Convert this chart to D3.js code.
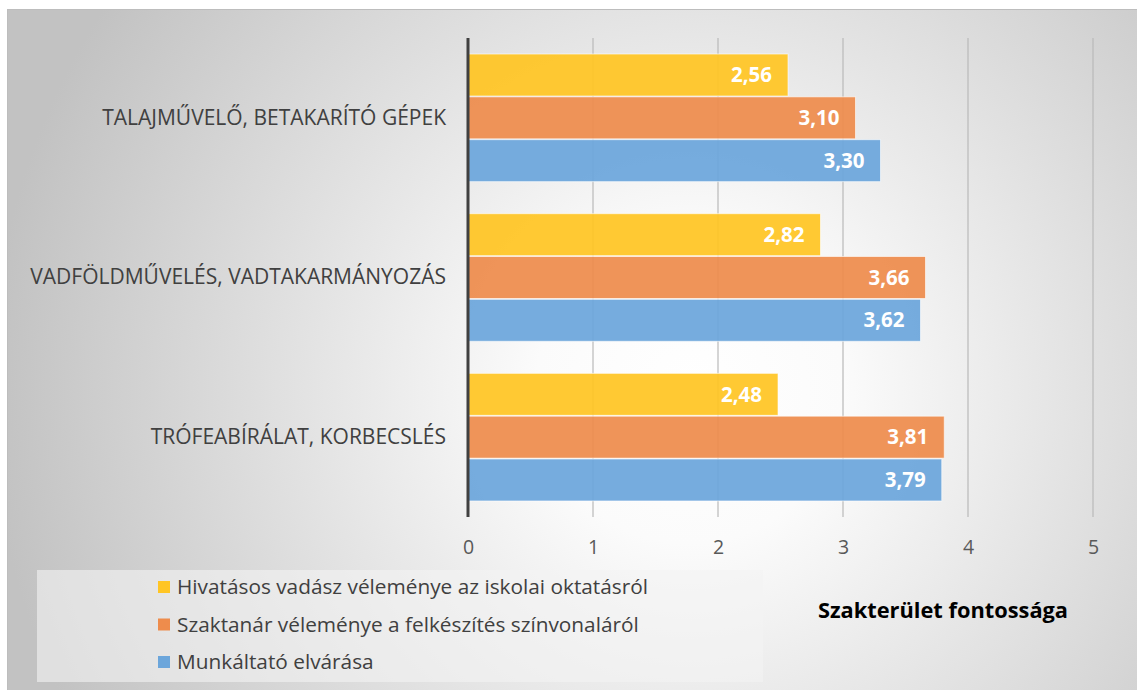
<!DOCTYPE html>
<html>
<head>
<meta charset="utf-8">
<script src="https://cdn.jsdelivr.net/npm/d3@7"></script>
<style>
  body { margin: 0; background: #fff; }
  text { font-family: "Open Sans", "Noto Sans", sans-serif; }
</style>
</head>
<body>
<div id="chart"></div>
<script>
const categories = ["TALAJMŰVELŐ, BETAKARÍTÓ GÉPEK", "VADFÖLDMŰVELÉS, VADTAKARMÁNYOZÁS", "TRÓFEABÍRÁLAT, KORBECSLÉS"]
const seriesNames = [
    "Hivatásos vadász véleménye az iskolai oktatásról",
    "Szaktanár véleménye a felkészítés színvonaláról",
    "Munkáltató elvárása"
]
const hivatasos = [2.56, 2.82, 2.48]
const szaktanar = [3.10, 3.66, 3.81]
const munkaltato = [3.30, 3.62, 3.79]
const xTicks = [0, 1, 2, 3, 4, 5]
const colors = ["#FFC524", "#EE8C4C", "#6CA6DB"]
const axisTitle = "Szakterület fontossága"

const width = 1137, height = 690
const margin = { top: 38, left: 468, right: 44, bottom: 173 }
const innerW = width - margin.left - margin.right
const innerH = height - margin.top - margin.bottom

const svg = d3.select("#chart").append("svg")
    .attr("width", width)
    .attr("height", height)

// background gradient
const defs = svg.append("defs")
const grad = defs.append("radialGradient")
    .attr("id", "bg")
    .attr("gradientUnits", "userSpaceOnUse")
    .attr("cx", 690).attr("cy", 390).attr("r", 700)
grad.append("stop").attr("offset", "0%").attr("stop-color", "#ffffff")
grad.append("stop").attr("offset", "22%").attr("stop-color", "#fbfbfb")
grad.append("stop").attr("offset", "100%").attr("stop-color", "#c2c2c2")

svg.append("rect")
    .attr("x", 7.5).attr("y", 9.5)
    .attr("width", width - 7).attr("height", height - 9)
    .attr("fill", "url(#bg)")
    .attr("stroke", "#bdbdbd")

const bounds = svg.append("g")
    .attr("transform", `translate(${margin.left},${margin.top})`)

const xScale = d3.scaleLinear().domain([0, 5]).range([0, innerW])
const yScale = d3.scaleBand().domain(categories).range([0, innerH]).paddingInner(0.19).paddingOuter(0.095)
const ySub = d3.scaleBand().domain(d3.range(3)).range([0, yScale.bandwidth()]).padding(0.02)

// gridlines
bounds.append("g")
    .selectAll("line")
    .data(xTicks.slice(1))
    .join("line")
    .attr("x1", d => xScale(d)).attr("x2", d => xScale(d))
    .attr("y1", 0).attr("y2", innerH)
    .attr("stroke", "#b9b9b9")
    .attr("stroke-width", 1.2)

// x axis labels
const xAxis = bounds.append("g")
    .attr("transform", `translate(0,${innerH})`)
    .call(d3.axisBottom(xScale).tickValues(xTicks).tickSize(0).tickPadding(23).tickFormat(d3.format("d")))
xAxis.select(".domain").remove()
xAxis.selectAll("text")
    .attr("font-size", 19.5)
    .attr("fill", "#595959")
    .style("font-family", "'Open Sans', sans-serif")

// bars
const series = [hivatasos, szaktanar, munkaltato]
series.forEach((vals, si) => {
    const g = bounds.append("g")
    g.selectAll("rect")
        .data(vals)
        .join("rect")
        .attr("x", 0)
        .attr("y", (d, i) => yScale(categories[i]) + ySub(si))
        .attr("width", d => xScale(d))
        .attr("height", ySub.bandwidth())
        .attr("fill", colors[si])
        .attr("fill-opacity", 0.93)
        .attr("stroke", "rgba(255,255,255,0.6)")
        .attr("stroke-width", 1)
    g.selectAll("text")
        .data(vals)
        .join("text")
        .attr("x", d => xScale(d) - 16)
        .attr("y", (d, i) => yScale(categories[i]) + ySub(si) + ySub.bandwidth() / 2)
        .attr("dy", "0.35em")
        .attr("text-anchor", "end")
        .attr("font-size", 20.5)
        .attr("font-weight", "bold")
        .attr("fill", "#fff")
        .text(d => d3.format(".2f")(d).replace(".", ","))
})

// zero axis line
bounds.append("line")
    .attr("x1", 0).attr("x2", 0)
    .attr("y1", 0).attr("y2", innerH)
    .attr("stroke", "#404040")
    .attr("stroke-width", 3)

// category labels
const yAxis = bounds.append("g")
    .call(d3.axisLeft(yScale).tickSize(0).tickPadding(22))
yAxis.select(".domain").remove()
yAxis.selectAll("text")
    .attr("font-size", 21)
    .attr("fill", "#404040")
    .style("font-family", "'Open Sans', sans-serif")

// legend
const legend = svg.append("g")
legend.append("rect")
    .attr("x", 37).attr("y", 570)
    .attr("width", 726).attr("height", 112)
    .attr("fill", "#f4f4f4")
    .attr("fill-opacity", 0.6)
const legendY = d3.scalePoint().domain(seriesNames).range([587, 662])
const item = legend.selectAll("g.item")
    .data(seriesNames)
    .join("g")
    .attr("class", "item")
    .attr("transform", d => `translate(158,${legendY(d)})`)
item.append("rect")
    .attr("x", 0).attr("y", -6)
    .attr("width", 12).attr("height", 12)
    .attr("fill", (d, i) => colors[i])
item.append("text")
    .attr("x", 19)
    .attr("dy", "0.35em")
    .attr("font-size", 20.8)
    .attr("fill", "#404040")
    .text(d => d)

// axis title
svg.append("text")
    .attr("x", 943).attr("y", 610)
    .attr("dy", "0.35em")
    .attr("text-anchor", "middle")
    .attr("font-size", 21.8)
    .attr("font-weight", "bold")
    .attr("fill", "#000")
    .text(axisTitle)
</script>
</body>
</html>
